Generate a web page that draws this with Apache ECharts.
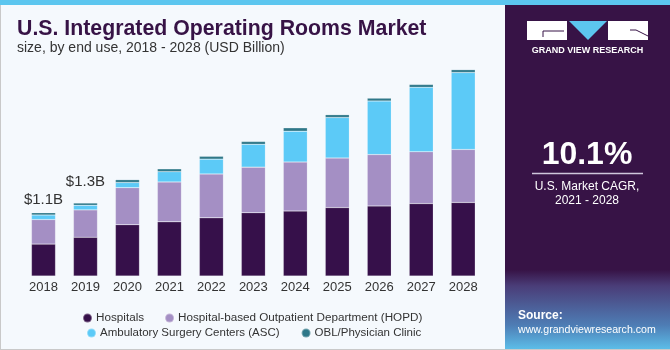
<!DOCTYPE html>
<html>
<head>
<meta charset="utf-8">
<script src="https://cdn.jsdelivr.net/npm/echarts@6/dist/echarts.min.js"></script>
<style>
  html, body { margin: 0; padding: 0; background: #f5f9fd; }
  #chart { width: 670px; height: 350px; }
</style>
</head>
<body>
<div id="chart"></div>
<script>
// 数据（从图上读出的估计值，单位：十亿美元）
const years = ['2018', '2019', '2020', '2021', '2022', '2023', '2024', '2025', '2026', '2027', '2028'];
const hospitals = [0.56, 0.68, 0.90, 0.95, 1.02, 1.11, 1.14, 1.20, 1.23, 1.27, 1.29];
const hopd = [0.43, 0.48, 0.65, 0.70, 0.77, 0.80, 0.86, 0.87, 0.90, 0.91, 0.93];
const asc = [0.08, 0.08, 0.09, 0.18, 0.26, 0.40, 0.54, 0.71, 0.94, 1.13, 1.35];
const obl = [0.04, 0.04, 0.05, 0.05, 0.05, 0.05, 0.06, 0.05, 0.05, 0.05, 0.05];
const totalLabels = ['$1.1B', '$1.3B', '', '', '', '', '', '', '', '', ''];
const labelGaps = [5, 14, 0, 0, 0, 0, 0, 0, 0, 0, 0];

const names = [
  'Hospitals',
  'Hospital-based Outpatient Department (HOPD)',
  'Ambulatory Surgery Centers (ASC)',
  'OBL/Physician Clinic'
];
const colors = ['#36104a', '#a48fc4', '#5ccaf7', '#2f7889'];

const myechart = echarts.init(document.getElementById('chart'));

const font = 'Liberation Sans, Arial, sans-serif';

function barSeries(name, values, color) {
  return {
    name: name,
    type: 'bar',
    stack: 'total',
    barWidth: 24,
    data: values,
    itemStyle: {
      color: color,
      borderColor: 'rgba(255,255,255,0.35)',
      borderWidth: 0.5
    },
    emphasis: { disabled: true }
  };
}

const series = [
  barSeries(names[0], hospitals, colors[0]),
  barSeries(names[1], hopd, colors[1]),
  barSeries(names[2], asc, colors[2]),
  barSeries(names[3], obl, colors[3])
];
// 顶部总值标签
series[3].data = obl.map((v, i) => ({
  value: v,
  label: {
    show: totalLabels[i] !== '',
    position: 'top',
    distance: labelGaps[i],
    formatter: totalLabels[i],
    color: '#333',
    fontSize: 15,
    fontFamily: font
  }
}));

const legendCommon = {
  icon: 'circle',
  itemWidth: 9,
  itemHeight: 9,
  itemGap: 20,
  textStyle: { color: '#333', fontSize: 11.7, fontFamily: font, padding: [0, 0, 0, -1] },
  selectedMode: false
};

var option = {
  backgroundColor: '#f5f9fd',
  animation: false,
  grid: {
    left: 22.5,
    right: 185.8,
    top: 48,
    bottom: 74
  },
  legend: [
    Object.assign({}, legendCommon, { data: [names[0], names[1]], left: 77, top: 307 }),
    Object.assign({}, legendCommon, { data: [names[2], names[3]], left: 81, top: 322, itemGap: 21, textStyle: Object.assign({}, legendCommon.textStyle, { fontSize: 11.5 }) })
  ],
  xAxis: {
    type: 'category',
    data: years,
    axisTick: { show: false },
    axisLine: { show: false },
    axisLabel: { color: '#333', fontSize: 13, fontFamily: font, margin: 5 }
  },
  yAxis: {
    type: 'value',
    min: 0,
    max: 4,
    show: false,
    splitLine: { show: false }
  },
  graphic: [
    // 背景边框
    { type: 'rect', silent: true, z: -10, shape: { x: 0, y: 0, width: 670, height: 350 }, style: { fill: '#f5f9fd', stroke: '#c9c9c9', lineWidth: 2 } },
    { type: 'rect', silent: true, z: -9, shape: { x: 0, y: 0, width: 670, height: 5 }, style: { fill: '#5cc6ef' } },
    // 右侧面板
    { type: 'rect', silent: true, z: -8, shape: { x: 505, y: 5, width: 165, height: 344 }, style: { fill: '#371346' } },
    {
      type: 'rect', silent: true, z: -7, shape: { x: 505, y: 270, width: 165, height: 79 },
      style: {
        fill: new echarts.graphic.LinearGradient(0, 0, 0, 1, [
          { offset: 0, color: 'rgba(55,19,70,1)' },
          { offset: 0.2, color: '#4a3d78' },
          { offset: 0.7, color: '#4e7db5' },
          { offset: 1, color: '#5cbde8' }
        ])
      }
    },
    // logo
    { type: 'rect', silent: true, shape: { x: 527, y: 21, width: 40, height: 19 }, style: { fill: '#fff' } },
    { type: 'polyline', silent: true, shape: { points: [[564, 31], [543, 31], [543, 37]] }, style: { stroke: '#371346', lineWidth: 1, fill: null } },
    { type: 'polygon', silent: true, shape: { points: [[569, 21], [607, 21], [588, 40]] }, style: { fill: '#5cc6ef' } },
    { type: 'rect', silent: true, shape: { x: 608, y: 21, width: 40, height: 19 }, style: { fill: '#fff' } },
    { type: 'polyline', silent: true, shape: { points: [[630, 30], [636, 30], [648, 36]] }, style: { stroke: '#371346', lineWidth: 1, fill: null } },
    { type: 'text', silent: true, style: { x: 587.5, y: 51, text: 'GRAND VIEW RESEARCH', fill: '#fff', font: 'bold 9px ' + font, textAlign: 'center', textVerticalAlign: 'middle' } },
    // CAGR
    { type: 'text', silent: true, style: { x: 587, y: 155, text: '10.1%', fill: '#fff', font: 'bold 32px ' + font, textAlign: 'center', textVerticalAlign: 'middle' } },
    { type: 'line', silent: true, shape: { x1: 532, y1: 173.5, x2: 643, y2: 173.5 }, style: { stroke: '#cfc6dc', lineWidth: 1.5 } },
    { type: 'text', silent: true, style: { x: 587, y: 187, text: 'U.S. Market CAGR,', fill: '#fff', font: '12px ' + font, textAlign: 'center', textVerticalAlign: 'middle' } },
    { type: 'text', silent: true, style: { x: 587, y: 201, text: '2021 - 2028', fill: '#fff', font: '12px ' + font, textAlign: 'center', textVerticalAlign: 'middle' } },
    // 来源
    { type: 'text', silent: true, style: { x: 518, y: 316, text: 'Source:', fill: '#fff', font: 'bold 12px ' + font, textVerticalAlign: 'middle' } },
    { type: 'text', silent: true, style: { x: 518, y: 330, text: 'www.grandviewresearch.com', fill: '#fff', font: '10.6px ' + font, textVerticalAlign: 'middle' } },
    // 标题
    { type: 'text', silent: true, style: { x: 17, y: 29, text: 'U.S. Integrated Operating Rooms Market', fill: '#371346', font: 'bold 21.3px ' + font, textVerticalAlign: 'middle' } },
    { type: 'text', silent: true, style: { x: 17, y: 48, text: 'size, by end use, 2018 - 2028 (USD Billion)', fill: '#333', font: '14px ' + font, textVerticalAlign: 'middle' } }
  ],
  series: series
};

myechart.setOption(option);
</script>
</body>
</html>
